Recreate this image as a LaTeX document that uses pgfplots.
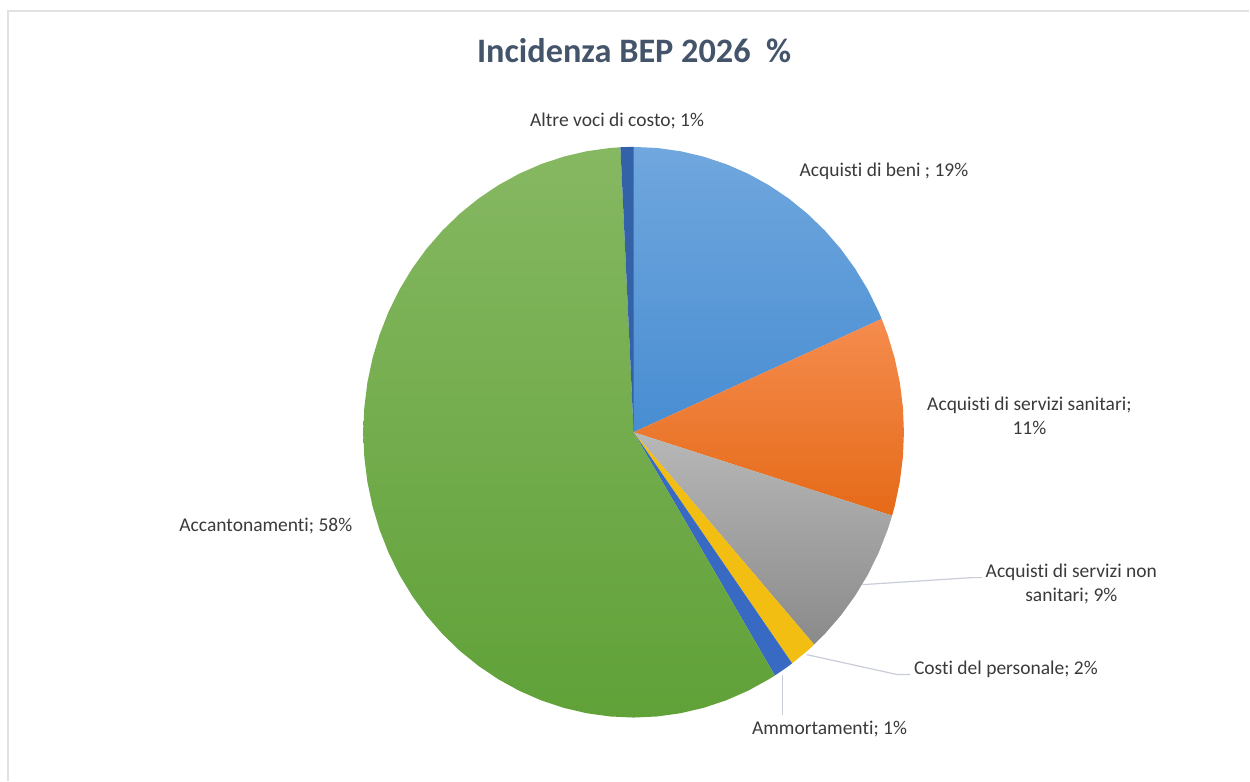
\documentclass[border=0pt]{standalone}
\usepackage{pgfplots}
\pgfplotsset{compat=1.18}
\usepackage{fontspec}
\setmainfont[Ligatures=NoCommon]{Carlito}
\definecolor{titlec}{HTML}{44546A}
\definecolor{labc}{HTML}{3A3A3A}
\definecolor{leadc}{HTML}{C9CDD9}
\definecolor{frame}{HTML}{E2E2E2}
\begin{document}
\begin{tikzpicture}
\begin{axis}[
  width=1250pt, height=781pt, scale only axis,
  xmin=-2.3438, xmax=2.2773, ymin=-1.2207, ymax=1.5149,
  hide axis, clip=false,
  data cs=polar,
]
% Acquisti di beni 18.5%
\addplot[draw=none, top color={rgb,255:red,112;green,167;blue,222}, bottom color={rgb,255:red,72;green,141;blue,210}] coordinates {
(0,0) (90,1) (85,1) (80,1) (75,1) (70,1) (65,1) (60,1) (55,1) (50,1) (45,1) (40,1) (35,1) (30,1) (25,1) (23.4,1)} -- cycle;
% Acquisti di servizi sanitari 11.2%
\addplot[draw=none, top color={rgb,255:red,245;green,140;blue,78}, bottom color={rgb,255:red,229;green,106;blue,24}] coordinates {
(0,0) (23.4,1) (20,1) (15,1) (10,1) (5,1) (0,1) (-5,1) (-10,1) (-15,1) (-17,1)} -- cycle;
% Acquisti di servizi non sanitari 8.6%
\addplot[draw=none, top color={rgb,255:red,184;green,184;blue,184}, bottom color={rgb,255:red,138;green,138;blue,138}] coordinates {
(0,0) (-17,1) (-20,1) (-25,1) (-30,1) (-35,1) (-40,1) (-45,1) (-48.1,1)} -- cycle;
% Costi del personale 1.7%
\addplot[draw=none, fill={rgb,255:red,242;green,190;blue,18}] coordinates {
(0,0) (-48.1,1) (-50,1) (-54.1,1)} -- cycle;
% Ammortamenti 1.2%
\addplot[draw=none, fill={rgb,255:red,56;green,106;blue,196}] coordinates {
(0,0) (-54.1,1) (-56,1) (-58.5,1)} -- cycle;
% Accantonamenti 58%
\addplot[draw=none, top color={rgb,255:red,134;green,184;blue,98}, bottom color={rgb,255:red,96;green,161;blue,56}] coordinates {
(0,0) (-58.5,1) (-60,1) (-65,1) (-70,1) (-75,1) (-80,1) (-85,1) (-90,1) (-95,1) (-100,1)
(-105,1) (-110,1) (-115,1) (-120,1) (-125,1) (-130,1) (-135,1) (-140,1) (-145,1) (-150,1)
(-155,1) (-160,1) (-165,1) (-170,1) (-175,1) (-180,1) (-185,1) (-190,1) (-195,1) (-200,1)
(-205,1) (-210,1) (-215,1) (-220,1) (-225,1) (-230,1) (-235,1) (-240,1) (-245,1) (-250,1)
(-255,1) (-260,1) (-265,1) (-267.2,1)} -- cycle;
% Altre voci di costo 0.8%
\addplot[draw=none, fill={rgb,255:red,52;green,98;blue,168}] coordinates {
(0,0) (-267.2,1) (-268.6,1) (-270,1)} -- cycle;
\end{axis}
\path (0,0) rectangle (1250pt,781pt);
\begin{scope}[shift={(0,781pt)}, x=1pt, y=-1pt]
\draw[frame, line width=1.5pt] (8,781) -- (8,11) -- (1250,11);
\node[anchor=base, text=titlec, font=\fontsize{34.3}{40}\selectfont\bfseries, inner sep=0pt] at (634.5,63) {Incidenza BEP 2026\ \ \%};
\begin{scope}[every node/.style={anchor=base, text=labc, font=\fontsize{19.5}{24}\selectfont, inner sep=0pt}]
\node at (617.5,127) {Altre voci di costo; 1\%};
\node at (884.5,177) {Acquisti di beni ; 19\%};
\node at (1030,411) {Acquisti di servizi sanitari;};
\node at (1030,435) {11\%};
\node at (1072,578) {Acquisti di servizi non};
\node at (1072,602) {sanitari; 9\%};
\node at (1006.5,675) {Costi del personale; 2\%};
\node at (830,735) {Ammortamenti; 1\%};
\node at (266,532) {Accantonamenti; 58\%};
\end{scope}
\draw[leadc, line width=1.2pt] (863,585) -- (972,578) -- (983,578);
\draw[leadc, line width=1.2pt] (807,655) -- (898,675) -- (911,675);
\draw[leadc, line width=1.2pt] (783,675) -- (783,715);
\end{scope}
\end{tikzpicture}
\end{document}
